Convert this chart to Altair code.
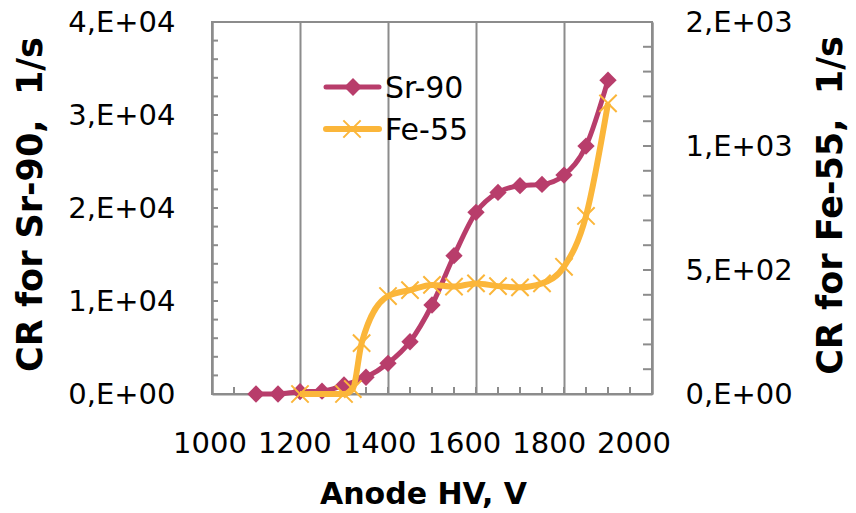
import altair as alt
import pandas as pd

# ---- data ----
hv_sr = [1100, 1150, 1200, 1250, 1300, 1350, 1400, 1450, 1500, 1550, 1600, 1650, 1700, 1750, 1800, 1850, 1900]
cr_sr = [0, 0, 250, 300, 970, 1800, 3300, 5620, 9570, 14870, 19530, 21680, 22400, 22540, 23540, 26660, 33750]
hv_fe = [1200, 1300, 1320, 1340, 1400, 1450, 1500, 1550, 1600, 1650, 1700, 1750, 1800, 1850, 1900]
cr_fe = [0, 0, 20, 205, 395, 419, 440, 433, 446, 435, 430, 446, 513, 718, 1172]
series_names = ["Sr-90", "Fe-55"]
x_ticks = [1000, 1200, 1400, 1600, 1800, 2000]
left_ticks = [0, 10000, 20000, 30000, 40000]
right_ticks = [0, 500, 1000, 1500]

SR_COLOR = "#B83D6B"
FE_COLOR = "#FBB63A"
GRAY = "#8C8C8C"
FONT = "DejaVu Sans"
XSHAPE = "M-1,-1L1,1M-1,1L1,-1"

sr_df = pd.DataFrame({"hv": hv_sr, "cr": cr_sr})
fe_df = pd.DataFrame({"hv": hv_fe, "cr": cr_fe})
legend_df = pd.DataFrame({"series": series_names})
xlab_df = pd.DataFrame({"hv": x_ticks})

label_expr = "replace(format(datum.value, '.0e'), 'e+', ',E+0')"

x_scale = alt.Scale(domain=[1000, 2000], nice=False, zero=False)
yl_scale = alt.Scale(domain=[0, 40000], nice=False)
yr_scale = alt.Scale(domain=[0, 1500], nice=False)

x_axis = alt.Axis(
    values=x_ticks, grid=True, gridColor=GRAY, gridWidth=2,
    ticks=False, domainColor=GRAY, domainWidth=2, labels=False,
    title="Anode HV, V", titleFont=FONT, titleFontSize=30, titleFontWeight="bold",
    titleColor="black", titleX=211, titleY=109, titleAlign="center", titleBaseline="alphabetic",
)
yl_axis = alt.Axis(
    orient="left", values=left_ticks, grid=False, ticks=False,
    domainColor=GRAY, domainWidth=2, labelExpr=label_expr,
    labelFont=FONT, labelFontSize=29, labelColor="black", labelPadding=37,
    labelBaseline="middle",
    title="CR for Sr-90,\u00a0 1/s", titleFont=FONT, titleFontSize=35, titleFontWeight="bold",
    titleColor="black", titleAngle=270, titleX=-182, titleY=182,
    titleAlign="center", titleBaseline="middle",
)
yr_axis = alt.Axis(
    orient="right", values=right_ticks, grid=False, ticks=False,
    domainColor=GRAY, domainWidth=2, labelExpr=label_expr,
    labelFont=FONT, labelFontSize=29, labelColor="black", labelPadding=33,
    labelBaseline="middle",
    title="CR for Fe-55,\u00a0 1/s", titleFont=FONT, titleFontSize=35, titleFontWeight="bold",
    titleColor="black", titleAngle=270, titleX=178, titleY=183,
    titleAlign="center", titleBaseline="middle",
)

def X(field):
    return alt.X(field, scale=x_scale, axis=x_axis)

def YL(field):
    return alt.Y(field, scale=yl_scale, axis=yl_axis)

def YR(field):
    return alt.Y(field, scale=yr_scale, axis=yr_axis)

# ---- left (Sr-90) group ----
sr_line = alt.Chart(sr_df).mark_line(color=SR_COLOR, strokeWidth=5, interpolate="monotone").encode(
    x=X("hv:Q"), y=YL("cr:Q"))
sr_pts = alt.Chart(sr_df).mark_point(shape="diamond", filled=True, size=300, color=SR_COLOR, opacity=1).encode(
    x=X("hv:Q"), y=YL("cr:Q"))
x_minor = alt.Chart(alt.sequence(1050, 2000, 50, as_="hv")).mark_rule(color=GRAY, strokeWidth=2).encode(
    x=X("hv:Q"), y=alt.value(365), y2=alt.value(372))
yl_minor = alt.Chart(alt.sequence(2000, 40000, 2000, as_="cr")).mark_rule(color=GRAY, strokeWidth=2).encode(
    y=YL("cr:Q"), x=alt.value(0), x2=alt.value(6))
# x tick labels (the reference spaces them slightly tighter than the gridlines)
x_labels = alt.Chart(xlab_df).transform_calculate(
    lx="995.5 + (datum.hv - 1000) * 0.9636", txt="format(datum.hv, 'd')"
).mark_text(align="center", baseline="alphabetic", font=FONT, fontSize=29, color="black").encode(
    x=X("lx:Q"), y=alt.value(431), text="txt:N")
leg_sr = alt.Chart(legend_df).transform_filter("datum.series == 'Sr-90'")
leg_sr_line = leg_sr.mark_rule(color=SR_COLOR, strokeWidth=5, strokeCap="round").encode(
    x=alt.value(114), x2=alt.value(167), y=alt.value(65))
leg_sr_pt = leg_sr.mark_point(shape="diamond", filled=True, size=320, color=SR_COLOR, opacity=1).encode(
    x=alt.value(141), y=alt.value(65))
leg_sr_txt = leg_sr.mark_text(align="left", baseline="alphabetic", font=FONT, fontSize=30, color="black").encode(
    text="series:N", x=alt.value(173), y=alt.value(76))

left = alt.layer(sr_line, x_minor, yl_minor, x_labels, sr_pts, leg_sr_line, leg_sr_pt, leg_sr_txt)

# ---- right (Fe-55) group ----
fe_line = alt.Chart(fe_df).mark_line(color=FE_COLOR, strokeWidth=6, interpolate="monotone").encode(
    x=X("hv:Q"), y=YR("cr:Q"))
fe_pts = alt.Chart(fe_df).mark_point(shape=XSHAPE, filled=False, size=300, strokeWidth=2, color=FE_COLOR, opacity=1).encode(
    x=X("hv:Q"), y=YR("cr:Q"))
yr_minor = alt.Chart(alt.sequence(100, 1500, 100, as_="cr")).mark_rule(color=GRAY, strokeWidth=2).encode(
    y=YR("cr:Q"), x=alt.value(431), x2=alt.value(440))
leg_fe = alt.Chart(legend_df).transform_filter("datum.series == 'Fe-55'")
leg_fe_line = leg_fe.mark_rule(color=FE_COLOR, strokeWidth=6, strokeCap="round").encode(
    x=alt.value(114), x2=alt.value(167), y=alt.value(107))
leg_fe_pt = leg_fe.mark_point(shape=XSHAPE, filled=False, size=300, strokeWidth=2, color=FE_COLOR, opacity=1).encode(
    x=alt.value(140), y=alt.value(107))
leg_fe_txt = leg_fe.mark_text(align="left", baseline="alphabetic", font=FONT, fontSize=30, color="black").encode(
    text="series:N", x=alt.value(173), y=alt.value(118))

right = alt.layer(fe_line, yr_minor, fe_pts, leg_fe_line, leg_fe_pt, leg_fe_txt)

chart = alt.layer(left, right).resolve_scale(y="independent").properties(
    width=440, height=372,
    padding={"left": 212, "top": 22, "right": 204, "bottom": 119},
    autosize=alt.AutoSizeParams(type="none"),
    background="white",
).configure_view(stroke=GRAY, strokeWidth=2)

chart.save("out.html", embed_options={"renderer": "svg", "actions": False})
